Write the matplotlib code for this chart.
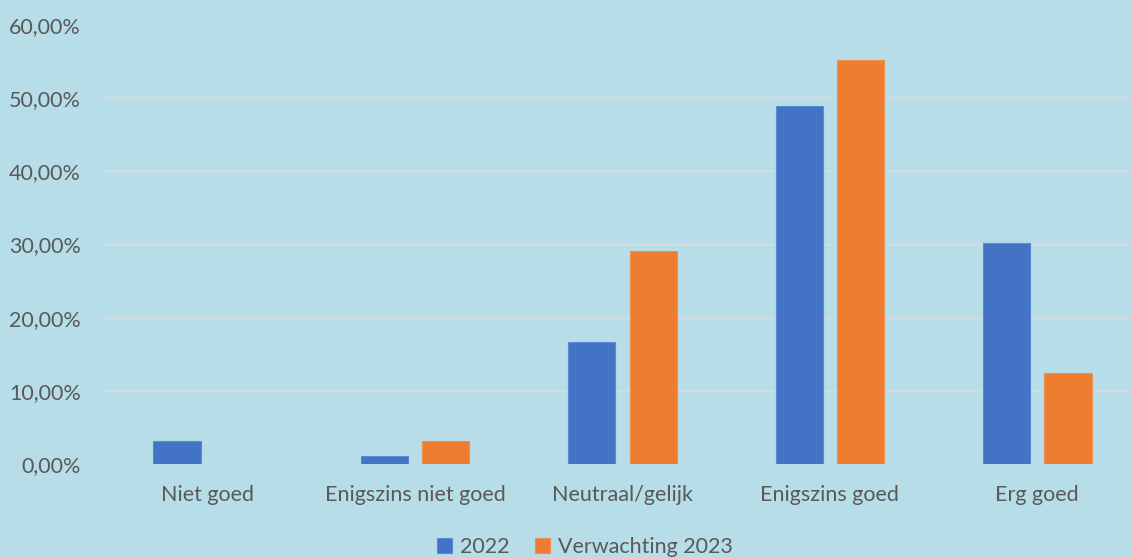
import numpy as np
import matplotlib.pyplot as plt
from matplotlib.ticker import FuncFormatter

categories = ['Niet goed', 'Enigszins niet goed', 'Neutraal/gelijk', 'Enigszins goed', 'Erg goed']
vals_2022 = [3.13, 1.04, 16.67, 48.96, 30.21]
vals_2023 = [0.0, 3.13, 29.17, 55.21, 12.50]
series_names = ['2022', 'Verwachting 2023']

bg = '#B7DDE8'
txt = '#595959'
plt.rcParams['font.family'] = ['Lato', 'DejaVu Sans']

fig = plt.figure(figsize=(11.31, 5.58), dpi=100)
fig.patch.set_facecolor(bg)
ax = fig.add_axes([104 / 1131, 1 - 464 / 558, 1037 / 1131, (464 - 25) / 558])
ax.set_facecolor(bg)

x = np.arange(len(categories))
w = 0.227
off = 0.148
ax.bar(x - off, vals_2022, w, color='#4472C4', edgecolor='#5B8BD6', linewidth=0.8,
       label=series_names[0], zorder=3)
ax.bar(x + off, vals_2023, w, color='#ED7D31', edgecolor='#F09050', linewidth=0.8,
       label=series_names[1], zorder=3)

ax.set_xlim(-0.5, len(categories) - 0.5)
ax.set_ylim(0, 60)
ax.set_yticks(np.arange(0, 61, 10))
ax.yaxis.set_major_formatter(FuncFormatter(lambda v, p: f'{v:.2f}'.replace('.', ',') + '%'))
ax.grid(axis='y', color='#D9D9D9', linewidth=1.3, zorder=0)
for s in ax.spines.values():
    s.set_visible(False)
ax.tick_params(length=0, colors=txt, labelsize=15.5)
ax.tick_params(axis='y', pad=16.5)
ax.tick_params(axis='x', pad=15)
ax.set_xticks(x)
ax.set_xticklabels(categories)

ax.legend(loc='center', bbox_to_anchor=(0.517, 0.02),
          bbox_transform=fig.transFigure, ncol=2, frameon=False, fontsize=15.5,
          labelcolor=txt, handlelength=0.7, handleheight=0.7, handletextpad=0.35,
          columnspacing=1.2)

fig.savefig('out.png', facecolor=bg)
